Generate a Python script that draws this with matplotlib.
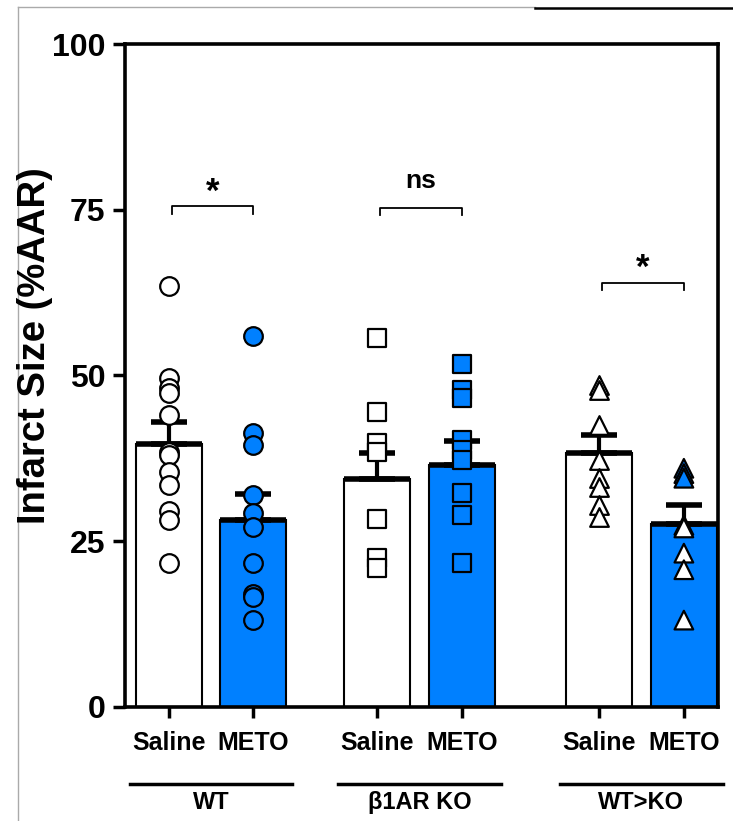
import numpy as np
import matplotlib.pyplot as plt
from matplotlib.lines import Line2D

# Daten: Mittelwerte, SEM und Einzelwerte je Gruppe
gruppen = ["WT", "β1AR KO", "WT>KO"]
behandlungen = ["Saline", "METO"]
mittelwerte = [39.7, 28.2, 34.4, 36.5, 38.3, 27.6]
sem = [3.3, 3.9, 3.9, 3.6, 2.7, 2.9]

wt_saline = [63.5, 49.6, 48.1, 47.4, 44.0, 38.5, 38.0, 35.5, 33.5, 29.5, 28.2, 21.7]
wt_meto = [55.9, 41.3, 39.5, 32.0, 29.2, 27.2, 21.7, 17.1, 16.6, 13.1]
ko_saline = [55.7, 44.5, 39.8, 38.5, 28.4, 22.4, 20.9]
ko_meto = [51.8, 47.8, 46.6, 40.3, 38.8, 37.3, 32.2, 29.0, 21.7]
wtko_saline = [48.6, 47.8, 42.5, 37.3, 34.5, 33.2, 30.5, 28.7]
wtko_meto = [36.0, 35.2, 34.5, 27.4, 27.0, 23.2, 20.7, 13.1]
einzelwerte = [wt_saline, wt_meto, ko_saline, ko_meto, wtko_saline, wtko_meto]

# Signifikanz-Klammern: (Hoehe, Text)
klammern = [(75.5, "*"), (75.3, "ns"), (64.0, "*")]

blau = "#0080ff"
x = np.array([0, 1, 2.48, 3.49, 5.12, 6.13])  # Balkenpositionen
farben = ["white", blau] * 3
marker = ["o", "o", "s", "s", "^", "^"]

schrift = ["Liberation Sans", "DejaVu Sans"]
plt.rcParams["font.family"] = schrift
plt.rcParams["font.weight"] = "bold"

fig = plt.figure(figsize=(7.33, 8.21), dpi=100)
ax = fig.add_axes([0.1705, 0.1389, 0.809, 0.8075])

# Balken mit dickem schwarzen Abschluss oben
ax.bar(x, mittelwerte, width=0.79, color=farben, edgecolor="black", linewidth=1.5, zorder=1)
ax.hlines(mittelwerte, x - 0.395, x + 0.395, color="black", linewidth=4, zorder=2)

# Fehlerbalken nur nach oben
ax.errorbar(x, mittelwerte, yerr=[np.zeros(6), sem], fmt="none", ecolor="black",
            elinewidth=3, capsize=13, capthick=4, zorder=3)

# Einzelpunkte
for i, werte in enumerate(einzelwerte):
    fc = farben[i]
    if i == 5:
        # bei WT>KO METO sind nur die oberen Dreiecke blau gefuellt
        fc = [blau if w > 30 else "white" for w in werte]
    ax.scatter(np.full(len(werte), x[i]), werte, s=180, marker=marker[i], facecolors=fc,
               edgecolors="black", linewidths=1.6, zorder=4)

# Signifikanz-Klammern zeichnen
for g, (h, txt) in enumerate(klammern):
    x1, x2 = x[2 * g] + 0.03, x[2 * g + 1]
    ax.plot([x1, x1, x2, x2], [h - 1.1, h, h, h - 1.1], color="black", linewidth=1.3)
    if txt == "*":
        ax.text((x1 + x2) / 2, h - 0.3, txt, ha="center", va="bottom", fontsize=25, fontweight="bold")
    else:
        ax.text((x1 + x2) / 2, h + 2.3, txt, ha="center", va="bottom", fontsize=19, fontweight="bold")

# Achsen
ax.set_ylim(0, 100)
ax.set_xlim(-0.524, 6.536)
ax.set_yticks([0, 25, 50, 75, 100])
ax.tick_params(axis="y", labelsize=23, width=2.5, length=9, direction="out", pad=5)
ax.tick_params(axis="x", labelsize=18, width=2.5, length=8, direction="out", pad=9)
ax.set_xticks(x)
ax.set_xticklabels(behandlungen * 3, fontweight="bold")
for lab in ax.get_yticklabels():
    lab.set_fontweight("bold")
for s in ax.spines.values():
    s.set_linewidth(2.6)

# y-Achsentitel frei platziert
fig.text(35 / 733, 1 - 346 / 821, "Infarct Size (%AAR)", rotation=90, ha="center", va="center",
         fontsize=27.5, fontweight="bold")

# Gruppenlinien und Gruppennamen unter den Achsenbeschriftungen
trans = ax.get_xaxis_transform()
for g, name in enumerate(gruppen):
    mitte = (x[2 * g] + x[2 * g + 1]) / 2
    ax.plot([mitte - 0.97, mitte + 0.97], [-0.116, -0.116], color="black", linewidth=2.5,
            transform=trans, clip_on=False)
    ax.text(mitte, -0.127, name, ha="center", va="top", fontsize=17, fontweight="bold",
            transform=trans)

# Rahmen des Bildausschnitts
fig.add_artist(Line2D([18 / 733, 18 / 733], [0, 1 - 7 / 821], color="#aaaaaa", linewidth=1))
fig.add_artist(Line2D([18 / 733, 535 / 733], [1 - 7 / 821, 1 - 7 / 821], color="#aaaaaa", linewidth=1))
fig.add_artist(Line2D([535 / 733, 1], [1 - 8 / 821, 1 - 8 / 821], color="black", linewidth=1.8))

fig.savefig("out.png", dpi=100)
